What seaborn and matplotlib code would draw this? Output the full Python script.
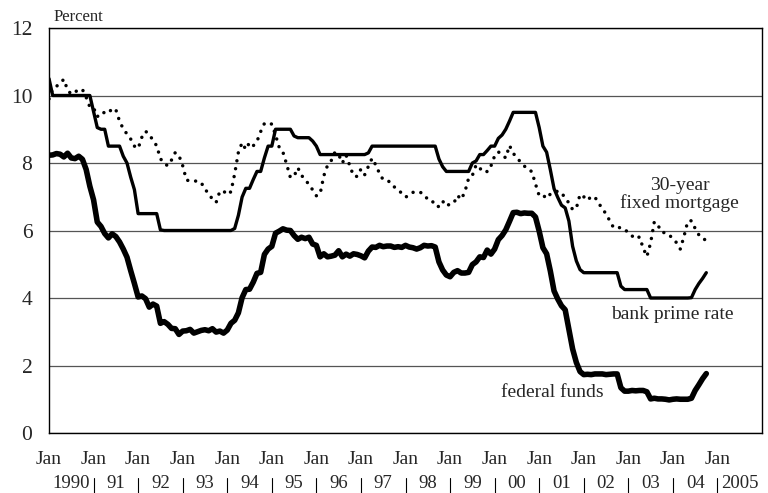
import pandas as pd
import matplotlib
matplotlib.use("Agg")
import matplotlib.pyplot as plt
import matplotlib.transforms as mtransforms
import seaborn as sns

# monthly averages, Jan 1990 - Oct 2004 (percent)
fed_funds = [
    8.23, 8.24, 8.28, 8.26, 8.18, 8.29, 8.15, 8.13, 8.20, 8.11, 7.81, 7.31,
    6.91, 6.25, 6.12, 5.91, 5.78, 5.90, 5.82, 5.66, 5.45, 5.21, 4.81, 4.43,
    4.03, 4.06, 3.98, 3.73, 3.82, 3.76, 3.25, 3.30, 3.22, 3.10, 3.09, 2.92,
    3.02, 3.03, 3.07, 2.96, 3.00, 3.04, 3.06, 3.03, 3.09, 2.99, 3.02, 2.96,
    3.05, 3.25, 3.34, 3.56, 4.01, 4.25, 4.26, 4.47, 4.73, 4.76, 5.29, 5.45,
    5.53, 5.92, 5.98, 6.05, 6.01, 6.00, 5.85, 5.74, 5.80, 5.76, 5.80, 5.60,
    5.56, 5.22, 5.31, 5.22, 5.24, 5.27, 5.40, 5.22, 5.30, 5.24, 5.31, 5.29,
    5.25, 5.19, 5.39, 5.51, 5.50, 5.56, 5.52, 5.54, 5.54, 5.50, 5.52, 5.50,
    5.56, 5.51, 5.49, 5.45, 5.49, 5.56, 5.54, 5.55, 5.51, 5.07, 4.83, 4.68,
    4.63, 4.76, 4.81, 4.74, 4.74, 4.76, 4.99, 5.07, 5.22, 5.20, 5.42, 5.30,
    5.45, 5.73, 5.85, 6.02, 6.27, 6.53, 6.54, 6.50, 6.52, 6.51, 6.51, 6.40,
    5.98, 5.49, 5.31, 4.80, 4.21, 3.97, 3.77, 3.65, 3.07, 2.49, 2.09, 1.82,
    1.73, 1.74, 1.73, 1.75, 1.75, 1.75, 1.73, 1.74, 1.75, 1.75, 1.34, 1.24,
    1.24, 1.26, 1.25, 1.26, 1.26, 1.22, 1.01, 1.03, 1.01, 1.01, 1.00, 0.98,
    1.00, 1.01, 1.00, 1.00, 1.00, 1.03, 1.26, 1.43, 1.61, 1.76,
]

prime_rate = [
    10.50, 10.00, 10.00, 10.00, 10.00, 10.00, 10.00, 10.00, 10.00, 10.00, 10.00, 10.00,
    9.52, 9.05, 9.00, 9.00, 8.50, 8.50, 8.50, 8.50, 8.20, 8.00, 7.58, 7.21,
    6.50, 6.50, 6.50, 6.50, 6.50, 6.50, 6.02, 6.00, 6.00, 6.00, 6.00, 6.00,
    6.00, 6.00, 6.00, 6.00, 6.00, 6.00, 6.00, 6.00, 6.00, 6.00, 6.00, 6.00,
    6.00, 6.00, 6.06, 6.45, 6.99, 7.25, 7.25, 7.51, 7.75, 7.75, 8.15, 8.50,
    8.50, 9.00, 9.00, 9.00, 9.00, 9.00, 8.80, 8.75, 8.75, 8.75, 8.75, 8.65,
    8.50, 8.25, 8.25, 8.25, 8.25, 8.25, 8.25, 8.25, 8.25, 8.25, 8.25, 8.25,
    8.25, 8.25, 8.30, 8.50, 8.50, 8.50, 8.50, 8.50, 8.50, 8.50, 8.50, 8.50,
    8.50, 8.50, 8.50, 8.50, 8.50, 8.50, 8.50, 8.50, 8.50, 8.12, 7.89, 7.75,
    7.75, 7.75, 7.75, 7.75, 7.75, 7.75, 8.00, 8.06, 8.25, 8.25, 8.37, 8.50,
    8.50, 8.73, 8.83, 9.00, 9.24, 9.50, 9.50, 9.50, 9.50, 9.50, 9.50, 9.50,
    9.05, 8.50, 8.32, 7.80, 7.24, 6.98, 6.75, 6.67, 6.28, 5.53, 5.10, 4.84,
    4.75, 4.75, 4.75, 4.75, 4.75, 4.75, 4.75, 4.75, 4.75, 4.75, 4.35, 4.25,
    4.25, 4.25, 4.25, 4.25, 4.25, 4.25, 4.00, 4.00, 4.00, 4.00, 4.00, 4.00,
    4.00, 4.00, 4.00, 4.00, 4.00, 4.01, 4.25, 4.43, 4.58, 4.75,
]

mortgage_30yr = [
    9.90, 10.20, 10.27, 10.37, 10.48, 10.16, 10.04, 10.10, 10.18, 10.18, 9.95, 9.66,
    9.64, 9.37, 9.50, 9.49, 9.47, 9.62, 9.58, 9.24, 9.01, 8.86, 8.71, 8.50,
    8.43, 8.76, 8.94, 8.85, 8.67, 8.51, 8.13, 7.98, 7.92, 8.09, 8.31, 8.22,
    7.92, 7.50, 7.46, 7.46, 7.47, 7.42, 7.21, 7.11, 6.92, 6.83, 7.16, 7.17,
    7.06, 7.15, 7.68, 8.32, 8.60, 8.40, 8.61, 8.51, 8.64, 8.93, 9.17, 9.20,
    9.15, 8.83, 8.46, 8.32, 7.96, 7.57, 7.61, 7.86, 7.64, 7.48, 7.38, 7.20,
    7.03, 7.08, 7.62, 7.93, 8.07, 8.32, 8.25, 8.00, 8.23, 7.92, 7.62, 7.60,
    7.82, 7.65, 7.90, 8.14, 7.94, 7.69, 7.50, 7.48, 7.43, 7.29, 7.21, 7.10,
    6.99, 7.04, 7.13, 7.14, 7.14, 7.00, 6.95, 6.92, 6.72, 6.71, 6.87, 6.72,
    6.79, 6.81, 7.04, 6.92, 7.15, 7.55, 7.63, 7.94, 7.82, 7.85, 7.74, 7.91,
    8.21, 8.33, 8.24, 8.15, 8.52, 8.29, 8.15, 8.03, 7.91, 7.80, 7.75, 7.38,
    7.03, 7.05, 6.95, 7.08, 7.15, 7.16, 7.13, 6.95, 6.82, 6.62, 6.66, 7.07,
    7.00, 6.89, 7.01, 6.99, 6.81, 6.65, 6.49, 6.29, 6.09, 6.11, 6.07, 6.05,
    5.92, 5.84, 5.75, 5.81, 5.48, 5.23, 5.63, 6.26, 6.15, 5.95, 5.93, 5.88,
    5.74, 5.64, 5.45, 5.83, 6.27, 6.29, 6.06, 5.87, 5.75, 5.72,
]

years = list(range(1990, 2006))
year_labels = ["1990", "91", "92", "93", "94", "95", "96", "97", "98", "99",
               "00", "01", "02", "03", "04", "2005"]
y_ticks = [0, 2, 4, 6, 8, 10, 12]

months = pd.date_range("1990-01-01", periods=len(fed_funds), freq="MS")
df = pd.DataFrame({
    "t": months.year + (months.month - 1) / 12.0,
    "fed": fed_funds,
    "prime": prime_rate,
    "mort": mortgage_30yr,
})

sns.set_style("white")
plt.rcParams["font.family"] = ["Liberation Serif", "DejaVu Serif"]

fig = plt.figure(figsize=(7.68, 4.93), dpi=100)
ax = fig.add_axes([0.0638, 0.1217, 0.9284, 0.8215])

sns.lineplot(data=df, x="t", y="mort", ax=ax, color="black", lw=2.5,
             linestyle=(0, (0.01, 2.3)), dash_capstyle="round")
sns.lineplot(data=df, x="t", y="prime", ax=ax, color="black", lw=2.4)
sns.lineplot(data=df, x="t", y="fed", ax=ax, color="black", lw=4.0,
             solid_joinstyle="round")

ax.set_xlim(1990, 2006)
ax.set_ylim(0, 12)
ax.set_xlabel("")
ax.set_ylabel("")
ax.set_yticks(y_ticks)
ax.set_yticklabels([str(v) for v in y_ticks], fontsize=15.5)
ax.set_xticks(years)
ax.set_xticklabels(["Jan"] * len(years), fontsize=14)
ax.tick_params(axis="both", length=0)
ax.tick_params(axis="y", pad=12)
ax.tick_params(axis="x", pad=13)
ax.yaxis.grid(True, color="#555555", lw=0.9)
ax.xaxis.grid(False)
for s in ax.spines.values():
    s.set_visible(True)
    s.set_color("black")
    s.set_linewidth(1.0)

trans = mtransforms.blended_transform_factory(ax.transData, ax.transAxes)
for yr in years[1:]:
    ax.plot([yr, yr], [-0.111, -0.150], transform=trans, color="black",
            lw=0.8, clip_on=False)
for yr, lab in zip(years, year_labels):
    ax.text(yr + 0.5, -0.124, lab, transform=trans, ha="center", va="center",
            fontsize=13.5)

ax.text(0.006, 1.017, "Percent", transform=ax.transAxes, ha="left",
        va="baseline", fontsize=12)
ax.text(2004.15, 7.07, "30-year\nfixed mortgage", ha="center", va="center",
        fontsize=14, linespacing=1.0)
ax.text(2003.98, 3.5, "bank prime rate", ha="center", va="center", fontsize=14)
ax.text(2001.29, 1.21, "federal funds", ha="center", va="center", fontsize=14)

fig.savefig("out.png", dpi=100)
plt.close(fig)
